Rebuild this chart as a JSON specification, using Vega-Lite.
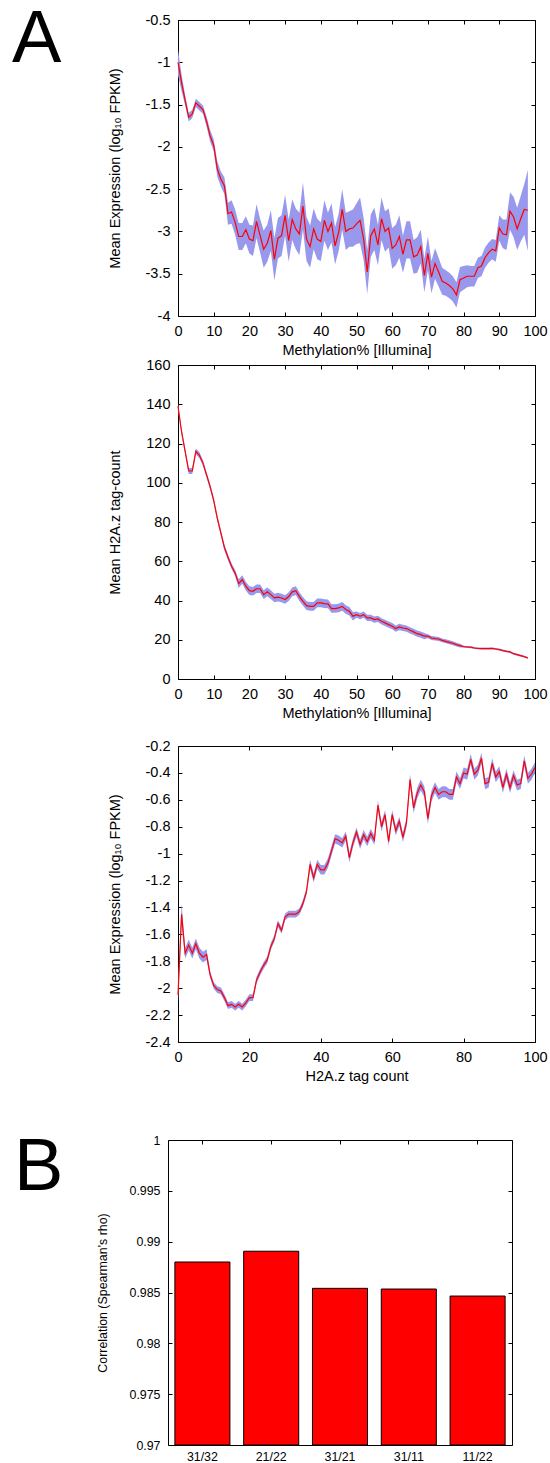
{
  "$schema": "https://vega.github.io/schema/vega-lite/v6.json",
  "padding": {"left": 12, "top": 3, "right": 0, "bottom": 0},
  "config": {
    "font": "Liberation Sans",
    "view": {"stroke": null},
    "axis": {
      "domain": true, "domainColor": "#000", "domainWidth": 1, "grid": false, "tickSize": -4, "tickColor": "#000", "tickWidth": 1,
      "labelColor": "#000", "titleColor": "#000", "labelFontSize": 14.5, "titleFontSize": 14.5,
      "titleFontWeight": "normal", "labelPadding": 12, "labelFlush": false
    },
    "axisX": {"titlePadding": 6},
    "axisY": {"titlePadding": 23},
    "title": {"fontSize": 74, "fontWeight": "normal", "color": "#000", "anchor": "start", "frame": "group", "offset": 0, "baseline": "alphabetic"},
    "locale": {"number": {"decimal": ".", "thousands": ",", "grouping": [3], "currency": ["$", ""], "minus": "-"}}
  },
  "datasets": {
    "meth_expr": [
      {"x":0,"m":-1.0,"e":0.15},{"x":1,"m":-1.24,"e":0.1},{"x":2,"m":-1.45,"e":0.06},{"x":3,"m":-1.65,"e":0.05},{"x":4,"m":-1.61,"e":0.05},
      {"x":5,"m":-1.48,"e":0.05},{"x":6,"m":-1.52,"e":0.05},{"x":7,"m":-1.56,"e":0.05},{"x":8,"m":-1.7,"e":0.06},{"x":9,"m":-1.87,"e":0.07},
      {"x":10,"m":-1.98,"e":0.07},{"x":11,"m":-2.26,"e":0.09},{"x":12,"m":-2.38,"e":0.09},{"x":13,"m":-2.46,"e":0.1},{"x":14,"m":-2.79,"e":0.13},
      {"x":15,"m":-2.77,"e":0.14},{"x":16,"m":-2.89,"e":0.15},{"x":17,"m":-3.06,"e":0.16},{"x":18,"m":-3.06,"e":0.16},{"x":19,"m":-2.98,"e":0.16},
      {"x":20,"m":-3.09,"e":0.17},{"x":21,"m":-3.11,"e":0.18},{"x":22,"m":-2.88,"e":0.2},{"x":23,"m":-3.05,"e":0.2},{"x":24,"m":-3.21,"e":0.22},
      {"x":25,"m":-3.14,"e":0.22},{"x":26,"m":-2.99,"e":0.24},{"x":27,"m":-3.33,"e":0.25},{"x":28,"m":-3.08,"e":0.24},{"x":29,"m":-3.05,"e":0.24},
      {"x":30,"m":-2.81,"e":0.24},{"x":31,"m":-3.11,"e":0.25},{"x":32,"m":-2.86,"e":0.24},{"x":33,"m":-2.97,"e":0.24},{"x":34,"m":-3.03,"e":0.25},
      {"x":35,"m":-2.7,"e":0.28},{"x":36,"m":-3.09,"e":0.26},{"x":37,"m":-3.18,"e":0.25},{"x":38,"m":-2.97,"e":0.24},{"x":39,"m":-3.09,"e":0.24},
      {"x":40,"m":-3.12,"e":0.23},{"x":41,"m":-2.87,"e":0.24},{"x":42,"m":-3.0,"e":0.22},{"x":43,"m":-2.9,"e":0.23},{"x":44,"m":-3.17,"e":0.22},
      {"x":45,"m":-3.01,"e":0.22},{"x":46,"m":-2.74,"e":0.24},{"x":47,"m":-3.0,"e":0.22},{"x":48,"m":-2.97,"e":0.21},{"x":49,"m":-2.96,"e":0.22},
      {"x":50,"m":-2.91,"e":0.24},{"x":51,"m":-2.87,"e":0.27},{"x":52,"m":-3.09,"e":0.25},{"x":53,"m":-3.48,"e":0.26},{"x":54,"m":-3.05,"e":0.25},
      {"x":55,"m":-2.97,"e":0.25},{"x":56,"m":-3.16,"e":0.24},{"x":57,"m":-2.85,"e":0.25},{"x":58,"m":-3.0,"e":0.24},{"x":59,"m":-2.96,"e":0.23},
      {"x":60,"m":-3.2,"e":0.24},{"x":61,"m":-3.16,"e":0.24},{"x":62,"m":-3.06,"e":0.25},{"x":63,"m":-3.27,"e":0.22},{"x":64,"m":-3.1,"e":0.22},
      {"x":65,"m":-3.1,"e":0.22},{"x":66,"m":-3.3,"e":0.2},{"x":67,"m":-3.28,"e":0.21},{"x":68,"m":-3.18,"e":0.2},{"x":69,"m":-3.52,"e":0.2},
      {"x":70,"m":-3.26,"e":0.2},{"x":71,"m":-3.54,"e":0.19},{"x":72,"m":-3.38,"e":0.18},{"x":73,"m":-3.48,"e":0.17},{"x":74,"m":-3.59,"e":0.16},
      {"x":75,"m":-3.61,"e":0.15},{"x":76,"m":-3.64,"e":0.15},{"x":77,"m":-3.68,"e":0.15},{"x":78,"m":-3.75,"e":0.15},{"x":79,"m":-3.57,"e":0.15},
      {"x":80,"m":-3.55,"e":0.14},{"x":81,"m":-3.53,"e":0.13},{"x":82,"m":-3.53,"e":0.12},{"x":83,"m":-3.53,"e":0.12},{"x":84,"m":-3.43,"e":0.12},
      {"x":85,"m":-3.41,"e":0.12},{"x":86,"m":-3.31,"e":0.12},{"x":87,"m":-3.25,"e":0.12},{"x":88,"m":-3.21,"e":0.12},{"x":89,"m":-3.23,"e":0.13},
      {"x":90,"m":-2.96,"e":0.15},{"x":91,"m":-3.03,"e":0.17},{"x":92,"m":-3.04,"e":0.18},{"x":93,"m":-2.76,"e":0.22},{"x":94,"m":-2.83,"e":0.24},
      {"x":95,"m":-2.97,"e":0.25},{"x":96,"m":-2.85,"e":0.27},{"x":97,"m":-2.74,"e":0.3},{"x":98,"m":-2.75,"e":0.48}
    ],
    "meth_h2az": [
      {"x":0,"m":139,"e":1.5},{"x":1,"m":126,"e":1.5},{"x":2,"m":116,"e":1.5},{"x":3,"m":106,"e":1.5},{"x":4,"m":106,"e":1.5},
      {"x":5,"m":116,"e":1.5},{"x":6,"m":114,"e":1.5},{"x":7,"m":110,"e":1.5},{"x":8,"m":104,"e":1.5},{"x":9,"m":98,"e":1.5},
      {"x":10,"m":91,"e":1.5},{"x":11,"m":82,"e":1.5},{"x":12,"m":74.5,"e":1.5},{"x":13,"m":67,"e":1.5},{"x":14,"m":62,"e":1.5},
      {"x":15,"m":57.5,"e":1.5},{"x":16,"m":54,"e":1.5},{"x":17,"m":48.6,"e":2.2},{"x":18,"m":50.7,"e":2.2},{"x":19,"m":47.3,"e":2.2},
      {"x":20,"m":45,"e":2.2},{"x":21,"m":44.7,"e":2.2},{"x":22,"m":46,"e":2.2},{"x":23,"m":46,"e":2.2},{"x":24,"m":43,"e":2.2},
      {"x":25,"m":44.4,"e":2.2},{"x":26,"m":43,"e":2.2},{"x":27,"m":41.3,"e":2.2},{"x":28,"m":41.7,"e":2.2},{"x":29,"m":41.3,"e":2.2},
      {"x":30,"m":40.5,"e":2.2},{"x":31,"m":42,"e":2.2},{"x":32,"m":44.4,"e":2.2},{"x":33,"m":45,"e":2.2},{"x":34,"m":42,"e":2.2},
      {"x":35,"m":39.6,"e":2.2},{"x":36,"m":37.4,"e":2.2},{"x":37,"m":37,"e":2.2},{"x":38,"m":37,"e":2.2},{"x":39,"m":38.8,"e":2.2},
      {"x":40,"m":38.8,"e":2.2},{"x":41,"m":38.4,"e":2.2},{"x":42,"m":38.3,"e":2.2},{"x":43,"m":35.9,"e":2.2},{"x":44,"m":35.9,"e":2.2},
      {"x":45,"m":36.2,"e":2.2},{"x":46,"m":37,"e":2.2},{"x":47,"m":35.4,"e":2.2},{"x":48,"m":34.5,"e":2.2},{"x":49,"m":32,"e":2.2},
      {"x":50,"m":32.8,"e":1.6},{"x":51,"m":32,"e":1.6},{"x":52,"m":32.8,"e":1.6},{"x":53,"m":31.1,"e":1.6},{"x":54,"m":31.1,"e":1.6},
      {"x":55,"m":30.3,"e":1.6},{"x":56,"m":30.6,"e":1.6},{"x":57,"m":29.4,"e":1.6},{"x":58,"m":28.6,"e":1.6},{"x":59,"m":27.7,"e":1.6},
      {"x":60,"m":26.9,"e":1.6},{"x":61,"m":25.7,"e":1.6},{"x":62,"m":26.5,"e":1.6},{"x":63,"m":26,"e":1.6},{"x":64,"m":25.7,"e":1.6},
      {"x":65,"m":24.8,"e":1.6},{"x":66,"m":24,"e":1.6},{"x":67,"m":23.1,"e":1.6},{"x":68,"m":22.6,"e":1.6},{"x":69,"m":21.8,"e":1.6},
      {"x":70,"m":21.8,"e":1.0},{"x":71,"m":20.9,"e":1.0},{"x":72,"m":20.6,"e":1.0},{"x":73,"m":20.4,"e":1.0},{"x":74,"m":19.7,"e":1.0},
      {"x":75,"m":19.2,"e":1.0},{"x":76,"m":18.7,"e":1.0},{"x":77,"m":18.2,"e":1.0},{"x":78,"m":17.5,"e":1.0},{"x":79,"m":17,"e":1.0},
      {"x":80,"m":16.5,"e":0.5},{"x":81,"m":16.3,"e":0.5},{"x":82,"m":16.2,"e":0.5},{"x":83,"m":15.8,"e":0.5},{"x":84,"m":15.6,"e":0.5},
      {"x":85,"m":15.5,"e":0.5},{"x":86,"m":15.5,"e":0.5},{"x":87,"m":15.5,"e":0.5},{"x":88,"m":15.6,"e":0.5},{"x":89,"m":15.3,"e":0.5},
      {"x":90,"m":15,"e":0.5},{"x":91,"m":14.5,"e":0.5},{"x":92,"m":14.1,"e":0.5},{"x":93,"m":13.8,"e":0.5},{"x":94,"m":12.9,"e":0.5},
      {"x":95,"m":12.4,"e":0.5},{"x":96,"m":11.9,"e":0.5},{"x":97,"m":11.4,"e":0.5},{"x":98,"m":10.7,"e":0.5}
    ],
    "h2az_expr": [
      {"x":0,"m":-2.05,"e":0.06},{"x":1,"m":-1.45,"e":0.08},{"x":2,"m":-1.74,"e":0.04},{"x":3,"m":-1.68,"e":0.04},{"x":4,"m":-1.74,"e":0.04},
      {"x":5,"m":-1.67,"e":0.04},{"x":6,"m":-1.74,"e":0.04},{"x":7,"m":-1.77,"e":0.04},{"x":8,"m":-1.75,"e":0.04},{"x":9,"m":-1.9,"e":0.025},
      {"x":10,"m":-1.98,"e":0.025},{"x":11,"m":-2.01,"e":0.025},{"x":12,"m":-2.02,"e":0.025},{"x":13,"m":-2.07,"e":0.025},{"x":14,"m":-2.13,"e":0.025},
      {"x":15,"m":-2.12,"e":0.025},{"x":16,"m":-2.14,"e":0.025},{"x":17,"m":-2.12,"e":0.025},{"x":18,"m":-2.14,"e":0.025},{"x":19,"m":-2.11,"e":0.025},
      {"x":20,"m":-2.07,"e":0.025},{"x":21,"m":-2.07,"e":0.025},{"x":22,"m":-1.94,"e":0.025},{"x":23,"m":-1.88,"e":0.025},{"x":24,"m":-1.83,"e":0.025},
      {"x":25,"m":-1.79,"e":0.025},{"x":26,"m":-1.69,"e":0.025},{"x":27,"m":-1.63,"e":0.025},{"x":28,"m":-1.52,"e":0.025},{"x":29,"m":-1.57,"e":0.025},
      {"x":30,"m":-1.47,"e":0.025},{"x":31,"m":-1.45,"e":0.025},{"x":32,"m":-1.45,"e":0.025},{"x":33,"m":-1.45,"e":0.025},{"x":34,"m":-1.43,"e":0.025},
      {"x":35,"m":-1.37,"e":0.025},{"x":36,"m":-1.28,"e":0.025},{"x":37,"m":-1.08,"e":0.035},{"x":38,"m":-1.18,"e":0.035},{"x":39,"m":-1.08,"e":0.035},
      {"x":40,"m":-1.12,"e":0.035},{"x":41,"m":-1.12,"e":0.035},{"x":42,"m":-1.07,"e":0.035},{"x":43,"m":-0.98,"e":0.035},{"x":44,"m":-0.89,"e":0.035},
      {"x":45,"m":-0.9,"e":0.035},{"x":46,"m":-0.92,"e":0.035},{"x":47,"m":-0.87,"e":0.035},{"x":48,"m":-1.03,"e":0.035},{"x":49,"m":-0.92,"e":0.035},
      {"x":50,"m":-0.84,"e":0.035},{"x":51,"m":-0.93,"e":0.035},{"x":52,"m":-0.86,"e":0.035},{"x":53,"m":-0.91,"e":0.035},{"x":54,"m":-0.85,"e":0.035},
      {"x":55,"m":-0.9,"e":0.035},{"x":56,"m":-0.64,"e":0.035},{"x":57,"m":-0.8,"e":0.035},{"x":58,"m":-0.71,"e":0.035},{"x":59,"m":-0.91,"e":0.035},
      {"x":60,"m":-0.71,"e":0.035},{"x":61,"m":-0.83,"e":0.035},{"x":62,"m":-0.76,"e":0.035},{"x":63,"m":-0.88,"e":0.035},{"x":64,"m":-0.77,"e":0.035},
      {"x":65,"m":-0.45,"e":0.04},{"x":66,"m":-0.66,"e":0.04},{"x":67,"m":-0.55,"e":0.04},{"x":68,"m":-0.49,"e":0.04},{"x":69,"m":-0.54,"e":0.04},
      {"x":70,"m":-0.74,"e":0.04},{"x":71,"m":-0.57,"e":0.04},{"x":72,"m":-0.51,"e":0.04},{"x":73,"m":-0.56,"e":0.04},{"x":74,"m":-0.54,"e":0.04},
      {"x":75,"m":-0.54,"e":0.04},{"x":76,"m":-0.56,"e":0.04},{"x":77,"m":-0.56,"e":0.04},{"x":78,"m":-0.43,"e":0.04},{"x":79,"m":-0.48,"e":0.04},
      {"x":80,"m":-0.4,"e":0.04},{"x":81,"m":-0.41,"e":0.04},{"x":82,"m":-0.3,"e":0.04},{"x":83,"m":-0.41,"e":0.04},{"x":84,"m":-0.38,"e":0.04},
      {"x":85,"m":-0.29,"e":0.04},{"x":86,"m":-0.48,"e":0.04},{"x":87,"m":-0.47,"e":0.04},{"x":88,"m":-0.33,"e":0.04},{"x":89,"m":-0.43,"e":0.04},
      {"x":90,"m":-0.39,"e":0.04},{"x":91,"m":-0.51,"e":0.04},{"x":92,"m":-0.41,"e":0.04},{"x":93,"m":-0.51,"e":0.04},{"x":94,"m":-0.42,"e":0.04},
      {"x":95,"m":-0.49,"e":0.04},{"x":96,"m":-0.48,"e":0.04},{"x":97,"m":-0.31,"e":0.04},{"x":98,"m":-0.44,"e":0.04},{"x":99,"m":-0.41,"e":0.04},
      {"x":100,"m":-0.36,"e":0.04}
    ],
    "correlation": [
      {"pair": "31/32", "rho": 0.988},
      {"pair": "21/22", "rho": 0.98906},
      {"pair": "31/21", "rho": 0.98541},
      {"pair": "31/11", "rho": 0.98534},
      {"pair": "11/22", "rho": 0.98465}
    ]
  },
  "bounds": "flush",
  "spacing": 0,
  "vconcat": [
    {
      "width": 367, "height": 296,
      "title": {"text": "A", "dx": -156, "dy": 70},
      "data": {"name": "meth_expr"},
      "layer": [
        {
          "mark": {"type": "errorband", "band": {"color": "#9898ec", "opacity": 1}},
          "encoding": {
            "x": {"field": "x", "type": "quantitative", "scale": {"domain": [0, 100], "range": [10, 367], "nice": false},
                  "axis": {"values": [0, 10, 20, 30, 40, 50, 60, 70, 80, 90, 100], "title": "Methylation% [Illumina]"}},
            "y": {"field": "m", "type": "quantitative", "scale": {"domain": [-4, -0.5], "nice": false, "zero": false},
                  "axis": {"offset": -10, "values": [-4, -3.5, -3, -2.5, -2, -1.5, -1, -0.5], "format": "~g", "title": "Mean Expression (log₁₀ FPKM)"}},
            "yError": {"field": "e"}
          }
        },
        {
          "mark": {"type": "line", "color": "#ff0000", "strokeWidth": 1.2},
          "encoding": {
            "x": {"field": "x", "type": "quantitative", "axis": {"orient": "top", "values": [0, 10, 20, 30, 40, 50, 60, 70, 80, 90, 100], "labels": false, "title": null}},
            "y": {"field": "m", "type": "quantitative", "axis": {"orient": "right", "values": [-4, -3.5, -3, -2.5, -2, -1.5, -1, -0.5], "labels": false, "title": null}}
          }
        }
      ],
      "resolve": {"axis": {"x": "independent", "y": "independent"}}
    },
    {"width": 10, "height": 49, "data": {"values": []}, "mark": "point", "encoding": {}},
    {
      "width": 367, "height": 314,
      "data": {"name": "meth_h2az"},
      "layer": [
        {
          "mark": {"type": "errorband", "band": {"color": "#9898ec", "opacity": 1}},
          "encoding": {
            "x": {"field": "x", "type": "quantitative", "scale": {"domain": [0, 100], "range": [10, 367], "nice": false},
                  "axis": {"values": [0, 10, 20, 30, 40, 50, 60, 70, 80, 90, 100], "title": "Methylation% [Illumina]"}},
            "y": {"field": "m", "type": "quantitative", "scale": {"domain": [0, 160], "nice": false},
                  "axis": {"offset": -10, "values": [0, 20, 40, 60, 80, 100, 120, 140, 160], "format": "d", "title": "Mean H2A.z tag-count"}},
            "yError": {"field": "e"}
          }
        },
        {
          "mark": {"type": "line", "color": "#ff0000", "strokeWidth": 1.2},
          "encoding": {
            "x": {"field": "x", "type": "quantitative", "axis": {"orient": "top", "values": [0, 10, 20, 30, 40, 50, 60, 70, 80, 90, 100], "labels": false, "title": null}},
            "y": {"field": "m", "type": "quantitative", "axis": {"orient": "right", "values": [0, 20, 40, 60, 80, 100, 120, 140, 160], "labels": false, "title": null}}
          }
        }
      ],
      "resolve": {"axis": {"x": "independent", "y": "independent"}}
    },
    {"width": 10, "height": 67, "data": {"values": []}, "mark": "point", "encoding": {}},
    {
      "width": 367, "height": 296,
      "data": {"name": "h2az_expr"},
      "layer": [
        {
          "mark": {"type": "errorband", "band": {"color": "#9898ec", "opacity": 1}},
          "encoding": {
            "x": {"field": "x", "type": "quantitative", "scale": {"domain": [0, 100], "range": [10, 367], "nice": false},
                  "axis": {"values": [0, 20, 40, 60, 80, 100], "title": "H2A.z tag count"}},
            "y": {"field": "m", "type": "quantitative", "scale": {"domain": [-2.4, -0.2], "nice": false, "zero": false},
                  "axis": {"offset": -10, "values": [-2.4, -2.2, -2, -1.8, -1.6, -1.4, -1.2, -1, -0.8, -0.6, -0.4, -0.2], "format": "~g", "title": "Mean Expression (log₁₀ FPKM)"}},
            "yError": {"field": "e"}
          }
        },
        {
          "mark": {"type": "line", "color": "#ff0000", "strokeWidth": 1.2},
          "encoding": {
            "x": {"field": "x", "type": "quantitative", "axis": {"orient": "top", "values": [0, 20, 40, 60, 80, 100], "labels": false, "title": null}},
            "y": {"field": "m", "type": "quantitative", "axis": {"orient": "right", "values": [-2.4, -2.2, -2, -1.8, -1.6, -1.4, -1.2, -1, -0.8, -0.6, -0.4, -0.2], "labels": false, "title": null}}
          }
        }
      ],
      "resolve": {"axis": {"x": "independent", "y": "independent"}}
    },
    {"width": 10, "height": 98, "data": {"values": []}, "mark": "point", "encoding": {}},
    {
      "width": 344, "height": 305,
      "title": {"text": "B", "dx": -154, "dy": 76},
      "data": {"name": "correlation"},
      "layer": [
        {
          "mark": {"type": "bar", "color": "#ff0000", "stroke": "#000", "strokeWidth": 1},
          "encoding": {
            "x": {"field": "pair", "type": "nominal", "sort": null, "scale": {"paddingInner": 0.2, "paddingOuter": 0.1},
                  "axis": {"title": null, "labelAngle": 0, "labelPadding": 9, "labelFontSize": 12.4}},
            "y": {"field": "rho", "type": "quantitative", "scale": {"domain": [0.97, 1], "nice": false, "zero": false},
                  "axis": {"values": [0.97, 0.975, 0.98, 0.985, 0.99, 0.995, 1], "format": "~g", "title": "Correlation (Spearman's rho)", "labelFontSize": 12.4, "titleFontSize": 12.4, "titlePadding": 19}},
            "y2": {"datum": 0.97}
          }
        },
        {
          "mark": {"type": "point", "opacity": 0},
          "encoding": {
            "x": {"field": "pair", "type": "nominal", "sort": null, "axis": {"orient": "top", "labels": false, "title": null}},
            "y": {"field": "rho", "type": "quantitative", "axis": {"orient": "right", "values": [0.97, 0.975, 0.98, 0.985, 0.99, 0.995, 1], "labels": false, "title": null}}
          }
        }
      ],
      "resolve": {"axis": {"x": "independent", "y": "independent"}}
    }
  ]
}
